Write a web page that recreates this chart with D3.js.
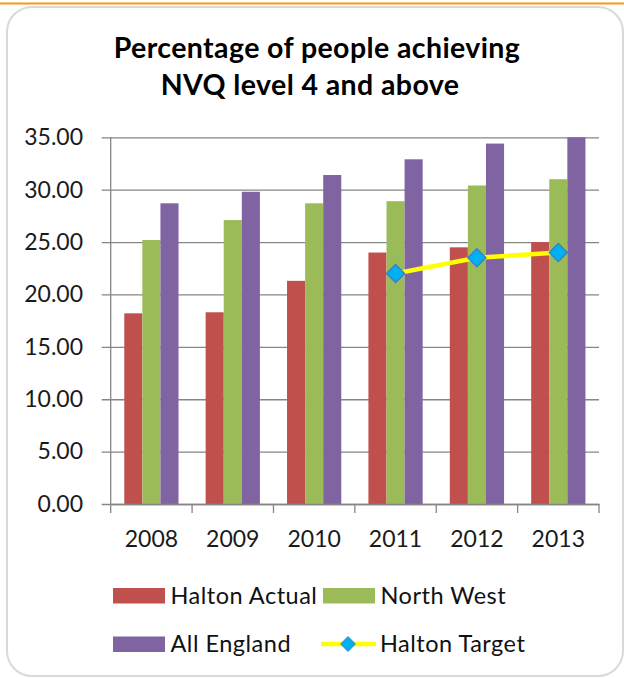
<!DOCTYPE html>
<html>
<head>
<meta charset="utf-8">
<script src="https://cdn.jsdelivr.net/npm/d3@7"></script>
<style>
    body { margin: 0; background: #fff; }
    svg { display: block; font-family: Lato, "Open Sans", sans-serif; }
</style>
</head>
<body>
<div id="app"></div>
<script>
"use strict";

const years = ["2008", "2009", "2010", "2011", "2012", "2013"];
const haltonActual = [18.2, 18.3, 21.3, 24.0, 24.5, 25.0];
const northWest = [25.2, 27.1, 28.7, 28.9, 30.4, 31.0];
const allEngland = [28.7, 29.8, 31.4, 32.9, 34.4, 35.0];
const haltonTarget = [null, null, null, 22.0, 23.5, 24.0];
const yTicks = [0, 5, 10, 15, 20, 25, 30, 35];

const barSeries = [
    { name: "Halton Actual", values: haltonActual, color: "#C0504D" },
    { name: "North West", values: northWest, color: "#9BBB59" },
    { name: "All England", values: allEngland, color: "#8064A2" },
];

const W = 624, H = 678;
const plot = { left: 110.7, right: 599, top: 137.3, bottom: 504 };
const gridColor = "#868686";

const svg = d3.select("#app").append("svg").attr("width", W).attr("height", H);

// frame
svg.append("line")
    .attr("x1", 0).attr("x2", W).attr("y1", 3.5).attr("y2", 3.5)
    .attr("stroke", "#F39C12").attr("stroke-width", 2);
svg.append("rect")
    .attr("x", 7).attr("y", 7).attr("width", 616).attr("height", 669)
    .attr("rx", 25).attr("ry", 25)
    .attr("fill", "#fff").attr("stroke", "#d9d9d9").attr("stroke-width", 2);

// title
const title = svg.append("text")
    .attr("text-anchor", "middle")
    .attr("font-size", 28.5).attr("font-weight", "bold").attr("fill", "#000")
    .attr("letter-spacing", 0.4);
title.append("tspan").attr("x", 317).attr("y", 58).text("Percentage of people achieving");
title.append("tspan").attr("x", 310).attr("y", 95).text("NVQ level 4 and above");

const x = d3.scaleBand().domain(years).range([plot.left, plot.right]);
const y = d3.scaleLinear().domain([0, 35]).range([plot.bottom, plot.top]);
const barW = x.bandwidth() / 4.5;
const groupOff = (x.bandwidth() - barW * 3) / 2;

// gridlines + y axis
const yAxis = svg.append("g")
    .attr("transform", `translate(${plot.left},0)`)
    .call(d3.axisLeft(y).tickValues(yTicks).tickFormat(d3.format(".2f"))
        .tickSize(-(plot.right - plot.left)).tickPadding(27.7));
yAxis.select(".domain").remove();
yAxis.selectAll(".tick line").attr("stroke", gridColor).attr("stroke-width", 1.3).attr("x1", -9);
yAxis.selectAll(".tick text").attr("font-size", 23).attr("fill", "#1a1a1a").attr("font-family", "Lato");
svg.append("line")
    .attr("x1", plot.left).attr("x2", plot.left).attr("y1", plot.top).attr("y2", plot.bottom)
    .attr("stroke", gridColor).attr("stroke-width", 1.3);

// bars
barSeries.forEach((s, si) => {
    svg.append("g").selectAll("rect")
        .data(s.values)
        .enter()
        .append("rect")
        .attr("x", (d, i) => x(years[i]) + groupOff + si * barW)
        .attr("y", d => y(d))
        .attr("width", barW)
        .attr("height", d => y(0) - y(d))
        .attr("fill", s.color);
});

// x axis
const xAxis = svg.append("g")
    .attr("transform", `translate(0,${plot.bottom})`)
    .call(d3.axisBottom(x).tickSize(0).tickPadding(26.7));
xAxis.select(".domain").attr("stroke", gridColor).attr("stroke-width", 1.3);
xAxis.selectAll(".tick text").attr("font-size", 23).attr("fill", "#1a1a1a").attr("font-family", "Lato");
svg.append("g").selectAll("line")
    .data(years.concat(["end"]))
    .enter()
    .append("line")
    .attr("x1", (d, i) => i < years.length ? x(d) : plot.right)
    .attr("x2", (d, i) => i < years.length ? x(d) : plot.right)
    .attr("y1", plot.bottom).attr("y2", plot.bottom + 9)
    .attr("stroke", gridColor).attr("stroke-width", 1.3);

// target line
const targetPts = years.map((yr, i) => ({ yr, v: haltonTarget[i] })).filter(d => d.v != null);
svg.append("path")
    .datum(targetPts)
    .attr("d", d3.line().x(d => x(d.yr) + x.bandwidth() / 2).y(d => y(d.v)))
    .attr("fill", "none").attr("stroke", "#FFFF00").attr("stroke-width", 4.5);
const diamond = d3.symbol().type(d3.symbolDiamond2).size(210);
svg.append("g").selectAll("path")
    .data(targetPts)
    .enter()
    .append("path")
    .attr("transform", d => `translate(${x(d.yr) + x.bandwidth() / 2},${y(d.v)})`)
    .attr("d", diamond)
    .attr("fill", "#00B0F0").attr("stroke", "#3A7CC8").attr("stroke-width", 1.3);

// legend
const legend = [
    { name: "Halton Actual", color: "#C0504D", x: 113, y: 595.5 },
    { name: "North West", color: "#9BBB59", x: 323, y: 595.5 },
    { name: "All England", color: "#8064A2", x: 113, y: 644 },
    { name: "Halton Target", line: true, x: 321, y: 644 },
];
const lg = svg.append("g").selectAll("g").data(legend).enter().append("g")
    .attr("transform", d => `translate(${d.x},${d.y})`);
lg.filter(d => !d.line).append("rect")
    .attr("x", 0).attr("y", -7.5).attr("width", 52).attr("height", 15.5)
    .attr("fill", d => d.color);
lg.filter(d => d.line).append("line")
    .attr("x1", 0).attr("x2", 55).attr("y1", 0).attr("y2", 0)
    .attr("stroke", "#FFFF00").attr("stroke-width", 4.5);
lg.filter(d => d.line).append("path")
    .attr("transform", "translate(27,0)")
    .attr("d", d3.symbol().type(d3.symbolDiamond2).size(140))
    .attr("fill", "#00B0F0").attr("stroke", "#3A7CC8").attr("stroke-width", 1);
lg.append("text")
    .attr("x", d => d.line ? 59 : 57.5).attr("y", 8)
    .attr("font-size", 23.5).attr("fill", "#111").attr("letter-spacing", 0.5)
    .text(d => d.name);
</script>
</body>
</html>
